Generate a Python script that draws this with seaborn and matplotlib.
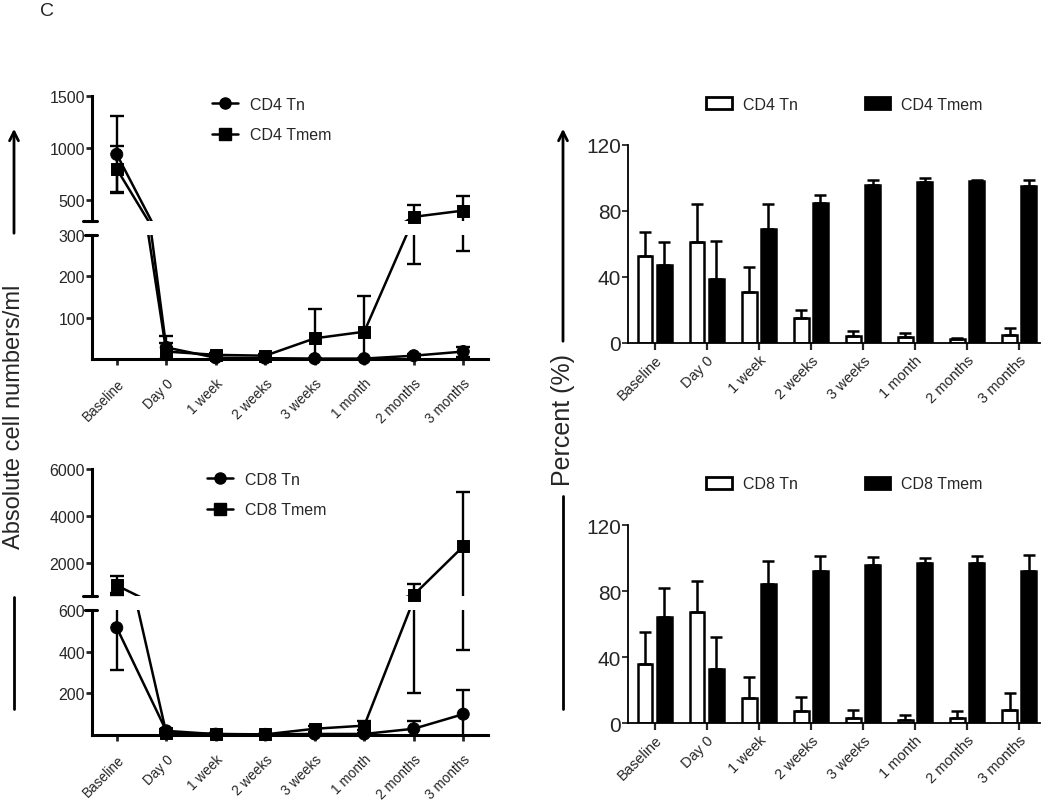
import numpy as np
import pandas as pd
import seaborn as sns
import matplotlib.pyplot as plt
from matplotlib.lines import Line2D
from matplotlib.patches import Patch, FancyArrowPatch

# time points
times = ['Baseline', 'Day 0', '1 week', '2 weeks', '3 weeks', '1 month', '2 months', '3 months']

# absolute counts (mean, SD)
cd4_tn_abs = [940, 28, 3, 2, 1, 1, 8, 18]
cd4_tn_abs_sd = [370, 27, 3, 2, 1, 1, 4, 12]
cd4_tmem_abs = [800, 18, 10, 8, 50, 66, 340, 400]
cd4_tmem_abs_sd = [220, 20, 5, 4, 72, 86, 110, 138]

cd8_tn_abs = [515, 20, 4, 3, 5, 5, 30, 100]
cd8_tn_abs_sd = [205, 10, 3, 2, 3, 3, 37, 114]
cd8_tmem_abs = [1050, 10, 5, 3, 30, 45, 650, 2710]
cd8_tmem_abs_sd = [400, 8, 3, 2, 15, 20, 450, 2300]

# percentages (mean, SD)
cd4_tn_pct = [53, 61, 31, 15, 4, 3.5, 2.2, 5]
cd4_tn_pct_sd = [14, 23, 15, 5, 3, 2.5, 0.8, 4]
cd4_tmem_pct = [47, 39, 69, 85, 96, 97.4, 98, 95]
cd4_tmem_pct_sd = [14, 23, 15, 5, 3, 2.5, 1, 4]

cd8_tn_pct = [36, 67, 15, 7, 3, 2, 3, 8]
cd8_tn_pct_sd = [19, 19, 13, 9, 5, 3, 4, 10]
cd8_tmem_pct = [64, 33, 84, 92, 96, 97, 97, 92]
cd8_tmem_pct_sd = [18, 19, 14, 9, 4.6, 3, 4, 10]

sns.set_style('ticks')
plt.rcParams['font.family'] = ['Liberation Sans', 'DejaVu Sans']
plt.rcParams['axes.edgecolor'] = 'black'

W, H = 1050, 803
fig = plt.figure(figsize=(10.5, 8.03), dpi=100)


def rect(l, t, r, b):
    return [l / W, 1 - b / H, (r - l) / W, (b - t) / H]


def line_panel(ax_hi, ax_lo, tn, tn_sd, tmem, tmem_sd, names, lo_lim, hi_lim, lo_ticks, hi_ticks, leg_xy):
    df = pd.DataFrame({
        'pos': list(range(len(times))) * 2,
        'value': tn + tmem,
        'subset': [names[0]] * len(times) + [names[1]] * len(times),
    })
    for ax, lim in [(ax_hi, hi_lim), (ax_lo, lo_lim)]:
        sns.lineplot(data=df, x='pos', y='value', hue='subset', hue_order=names,
                     palette=['black', 'black'], linewidth=1.8, errorbar=None,
                     legend=False, ax=ax)
        ax.errorbar(range(len(times)), tn, yerr=tn_sd, fmt='none', ecolor='k',
                    elinewidth=1.7, capsize=5, capthick=1.7)
        ax.errorbar(range(len(times)), tmem, yerr=tmem_sd, fmt='none', ecolor='k',
                    elinewidth=1.7, capsize=5, capthick=1.7)
        sub = df[(df['value'] >= lim[0]) & (df['value'] <= lim[1])]
        sns.scatterplot(data=sub, x='pos', y='value', style='subset', style_order=names,
                        markers={names[0]: 'o', names[1]: 's'}, color='k', edgecolor='k',
                        s=75, legend=False, ax=ax, clip_on=False, zorder=5)
        ax.set_xlim(-0.5, 7.5)
        ax.set_ylim(*lim)
        ax.set_xlabel('')
        ax.set_ylabel('')
        sns.despine(ax=ax)
        ax.spines['left'].set_linewidth(2.2)
        ax.spines['bottom'].set_linewidth(2.2)
        ax.tick_params(direction='out', length=4, width=2, labelsize=11.5, pad=1)
    ax_hi.set_yticks(hi_ticks)
    ax_lo.set_yticks(lo_ticks)
    ax_hi.spines['bottom'].set_visible(False)
    ax_hi.set_xticks([])
    ax_lo.set_xticks(range(len(times)))
    ax_lo.set_xticklabels(times, rotation=45, ha='right', rotation_mode='anchor', fontsize=9.8)
    ax_lo.tick_params(axis='x', pad=8)
    # break marks
    ax_hi.plot([-0.022, 0.012], [0, 0], transform=ax_hi.transAxes, color='k', lw=2.2, clip_on=False)
    ax_lo.plot([-0.018, 0.012], [1, 1], transform=ax_lo.transAxes, color='k', lw=2.2, clip_on=False)

    handles = [Line2D([], [], color='k', lw=1.8, marker='o', markersize=8),
               Line2D([], [], color='k', lw=1.8, marker='s', markersize=8)]
    ax_hi.legend(handles, names, loc='upper left', bbox_to_anchor=leg_xy,
                 bbox_transform=fig.transFigure, frameon=False, fontsize=11.5,
                 handlelength=1.6, handletextpad=0.8, labelspacing=0.95,
                 borderpad=0, borderaxespad=0)


def bar_panel(ax, tn, tn_sd, tmem, tmem_sd, names, leg_xy):
    df = pd.DataFrame({
        'time': times * 2,
        'value': tn + tmem,
        'subset': [names[0]] * len(times) + [names[1]] * len(times),
    })
    sns.barplot(data=df, x='time', y='value', hue='subset', order=times, hue_order=names,
                palette=['white', 'black'], edgecolor='black', linewidth=1.8,
                width=0.74, gap=0.23, errorbar=None, legend=False, ax=ax)
    bars = list(ax.containers)
    for cont, sd in zip(bars, [tn_sd, tmem_sd]):
        xs = [b.get_x() + b.get_width() / 2 for b in cont]
        hs = [b.get_height() for b in cont]
        ax.errorbar(xs, hs, yerr=[np.zeros(len(sd)), sd], fmt='none', ecolor='k',
                    elinewidth=1.8, capsize=4, capthick=1.8, zorder=1)
    ax.set_xlim(-0.51, 7.4)
    ax.set_ylim(0, 120)
    ax.set_yticks([0, 40, 80, 120])
    ax.set_xlabel('')
    ax.set_ylabel('')
    sns.despine(ax=ax)
    ax.spines['left'].set_linewidth(1.3)
    ax.spines['bottom'].set_linewidth(1.3)
    ax.tick_params(axis='y', direction='out', length=4, width=1.3, labelsize=15, pad=1)
    ax.tick_params(axis='x', direction='out', length=5, width=1.6, pad=2)
    ax.set_xticks(range(len(times)))
    ax.set_xticklabels(times, rotation=45, ha='right', rotation_mode='anchor', fontsize=10.5)

    handles = [Patch(facecolor='white', edgecolor='k', linewidth=2),
               Patch(facecolor='black', edgecolor='k', linewidth=2)]
    ax.legend(handles, names, ncol=2, loc='center left', bbox_to_anchor=leg_xy,
              bbox_transform=fig.transFigure, frameon=False, fontsize=11.5,
              handlelength=1.6, handleheight=0.85, handletextpad=0.7,
              columnspacing=4.2, borderpad=0, borderaxespad=0)


# left: absolute counts with broken y axes
ax1h = fig.add_axes(rect(92, 97, 488, 222))
ax1l = fig.add_axes(rect(92, 236, 488, 360))
line_panel(ax1h, ax1l, cd4_tn_abs, cd4_tn_abs_sd, cd4_tmem_abs, cd4_tmem_abs_sd,
           ['CD4 Tn', 'CD4 Tmem'], (0, 300), (300, 1500), [100, 200, 300], [500, 1000, 1500],
           (212 / W, 1 - 98 / H))

ax2h = fig.add_axes(rect(92, 470, 488, 597))
ax2l = fig.add_axes(rect(92, 611, 488, 736))
line_panel(ax2h, ax2l, cd8_tn_abs, cd8_tn_abs_sd, cd8_tmem_abs, cd8_tmem_abs_sd,
           ['CD8 Tn', 'CD8 Tmem'], (0, 600), (600, 6000), [200, 400, 600], [2000, 4000, 6000],
           (207 / W, 1 - 473 / H))

# right: percentages
ax3 = fig.add_axes(rect(628, 146, 1040, 344))
bar_panel(ax3, cd4_tn_pct, cd4_tn_pct_sd, cd4_tmem_pct, cd4_tmem_pct_sd,
          ['CD4 Tn', 'CD4 Tmem'], (706 / W, 1 - 105 / H))

ax4 = fig.add_axes(rect(628, 526, 1040, 724))
bar_panel(ax4, cd8_tn_pct, cd8_tn_pct_sd, cd8_tmem_pct, cd8_tmem_pct_sd,
          ['CD8 Tn', 'CD8 Tmem'], (706 / W, 1 - 485 / H))

# shared y labels with arrows
for x, y_lab, size, text, arrow_end, line_span in [
        (14, 417, 17, 'Absolute cell numbers/ml', 237, (598, 710)),
        (563, 420, 18, 'Percent (%)', 345, (497, 710))]:
    fig.text(x / W, 1 - y_lab / H, text, rotation=90, ha='center', va='center', fontsize=size)
    fig.add_artist(FancyArrowPatch((x / W, 1 - arrow_end / H), (x / W, 1 - 127 / H),
                                   transform=fig.transFigure, arrowstyle='->',
                                   mutation_scale=16, lw=2, color='k'))
    fig.add_artist(Line2D([x / W, x / W], [1 - line_span[0] / H, 1 - line_span[1] / H],
                          transform=fig.transFigure, color='k', lw=2))

fig.text(47 / W, 1 - 11 / H, 'C', fontsize=14, ha='center', va='center')

fig.savefig('out.png', dpi=100)
